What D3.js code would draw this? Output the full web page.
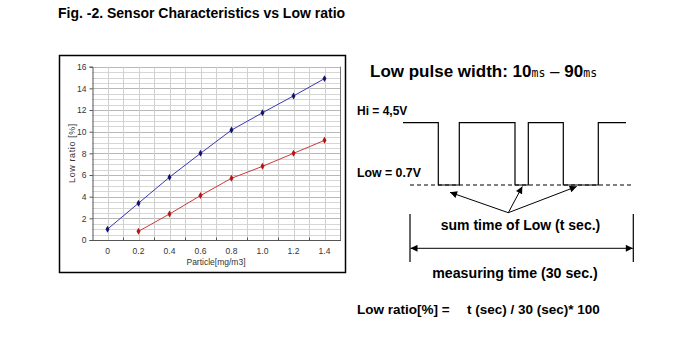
<!DOCTYPE html>
<html><head><meta charset="utf-8">
<script src="https://cdn.jsdelivr.net/npm/d3@7"></script>
<style>body{margin:0;background:#fff}svg{display:block}</style>
</head><body>
<svg id="c" width="690" height="358"></svg>
<script>
const categories = ["0","0.2","0.4","0.6","0.8","1.0","1.2","1.4"];
const seriesBlue = [1.0, 3.4, 5.8, 8.0, 10.15, 11.75, 13.3, 14.9];
const seriesRed = [null, 0.8, 2.4, 4.1, 5.7, 6.8, 8.0, 9.2];
const yTicks = [0,2,4,6,8,10,12,14,16];

const svg = d3.select("#c");
const F = "Liberation Sans, Arial, sans-serif";

// Figure title
svg.append("text").attr("x",58).attr("y",18).attr("font-family",F).attr("font-weight","bold")
  .attr("font-size",14).attr("fill","#000").text("Fig. -2. Sensor Characteristics vs Low ratio");

// Chart frame
svg.append("rect").attr("x",59.5).attr("y",55.5).attr("width",286).attr("height",217)
  .attr("fill","#fff").attr("stroke","#000").attr("stroke-width",1.5);

const x = d3.scalePoint().domain(categories).range([92,340]).padding(0.5);
const y = d3.scaleLinear().domain([0,16]).range([240,66.7]);
const step = x.step();

const g = svg.append("g");
const minor = d3.range(0,16.01,0.5);
g.selectAll(".hg").data(minor).join("line")
  .attr("x1",92).attr("x2",340.5).attr("y1",d=>Math.round(y(d))+0.5).attr("y2",d=>Math.round(y(d))+0.5)
  .attr("stroke",d=>d%2===0?"#b8b8b8":"#d6d6d6").attr("stroke-width",1);
const vpos = [];
categories.forEach(c=>{vpos.push(x(c)); vpos.push(x(c)+step/2);});
g.selectAll(".vg").data(vpos).join("line")
  .attr("x1",d=>Math.round(d)+0.5).attr("x2",d=>Math.round(d)+0.5).attr("y1",66.7).attr("y2",240)
  .attr("stroke","#d0d0d0");
g.append("line").attr("x1",340.5).attr("x2",340.5).attr("y1",66.7).attr("y2",240).attr("stroke","#777");

const yAxis = d3.axisLeft(y).tickValues(yTicks).tickSize(3).tickPadding(3);
const ya = svg.append("g").attr("transform","translate(92.5,0)").call(yAxis);
ya.select(".domain").attr("stroke","#555");
ya.selectAll(".tick line").attr("stroke","#555");
ya.selectAll("text").attr("font-family",F).attr("font-size",8.5).attr("fill","#333");

const xa = svg.append("g").attr("transform","translate(0,240.5)");
xa.append("line").attr("x1",92).attr("x2",341).attr("stroke","#555");
const edges = categories.slice(0,-1).map(c=>x(c)+step/2);
xa.selectAll(".xt").data(edges).join("line").attr("x1",d=>Math.round(d)+0.5).attr("x2",d=>Math.round(d)+0.5)
  .attr("y1",0).attr("y2",-3).attr("stroke","#555");
xa.selectAll(".xl").data(categories).join("text").attr("x",d=>x(d)).attr("y",13.5)
  .attr("text-anchor","middle").attr("font-family",F).attr("font-size",8.5).attr("fill","#333").text(d=>d);

svg.append("text").attr("x",216).attr("y",264.5).attr("text-anchor","middle").attr("font-family",F)
  .attr("font-size",8.5).attr("fill","#333").text("Particle[mg/m3]");
svg.append("text").attr("transform","translate(74.5,153) rotate(-90)").attr("text-anchor","middle")
  .attr("font-family",F).attr("font-size",9).attr("letter-spacing",0.6).attr("fill","#333").text("Low ratio [%]");

function series(vals,lc,mc){
  const pts = categories.map((c,i)=>({c,v:vals[i]})).filter(d=>d.v!=null);
  svg.append("path").datum(pts).attr("fill","none").attr("stroke",lc).attr("stroke-width",1)
    .attr("d",d3.line().x(d=>x(d.c)).y(d=>y(d.v)));
  svg.selectAll(null).data(pts).join("path")
    .attr("transform",d=>`translate(${x(d.c)},${y(d.v)})`)
    .attr("d",d3.symbol(d3.symbolDiamond,14)).attr("fill",mc);
}
series(seriesBlue,"#3a3ab0","#14146e");
series(seriesRed,"#d03838","#b01818");

// ---- right diagram ----
const T = svg.append("g").attr("font-family",F).attr("fill","#000");
const t1 = T.append("text").attr("x",370).attr("y",77).attr("font-size",17).attr("font-weight","bold");
t1.append("tspan").text("Low pulse width: 10");
t1.append("tspan").attr("font-weight","normal").attr("font-size",11.5).attr("font-family","DejaVu Sans Mono, monospace").text("ms");
t1.append("tspan").attr("font-weight","normal").text(" \u2013 ");
t1.append("tspan").text("90");
t1.append("tspan").attr("font-weight","normal").attr("font-size",11.5).attr("font-family","DejaVu Sans Mono, monospace").text("ms");

T.append("text").attr("x",357).attr("y",115).attr("font-size",12).attr("font-weight","bold").text("Hi = 4,5V");
T.append("text").attr("x",357).attr("y",177).attr("font-size",12.3).attr("font-weight","bold").text("Low = 0.7V");

const hi=122.7, lo=185;
const wave = [[403,hi],[438.3,hi],[438.3,lo],[459.3,lo],[459.3,hi],[515,hi],[515,lo],[528.3,lo],[528.3,hi],[563.3,hi],[563.3,lo],[598.3,lo],[598.3,hi],[626,hi]];
svg.append("path").attr("d",d3.line()(wave)).attr("fill","none").attr("stroke","#000").attr("stroke-width",1.2);
svg.append("line").attr("x1",410).attr("x2",634).attr("y1",lo).attr("y2",lo).attr("stroke","#000")
  .attr("stroke-width",1.2).attr("stroke-dasharray","4,3");

const defs = svg.append("defs");
defs.append("marker").attr("id","ah").attr("viewBox","0 0 10 10").attr("refX",10).attr("refY",5)
  .attr("markerWidth",9).attr("markerHeight",7).attr("orient","auto-start-reverse").attr("markerUnits","userSpaceOnUse")
  .append("path").attr("d","M0,0L10,5L0,10Z").attr("fill","#000");

const src=[508.3,212.7];
[[450,192.3],[522.3,186.5],[576.7,186.5]].forEach(p=>{
  svg.append("line").attr("x1",src[0]).attr("y1",src[1]).attr("x2",p[0]).attr("y2",p[1])
    .attr("stroke","#000").attr("stroke-width",1).attr("marker-end","url(#ah)");
});
T.append("text").attr("x",520.5).attr("y",230).attr("text-anchor","middle").attr("font-size",14).attr("font-weight","bold")
  .text("sum time of Low (t sec.)");

svg.append("line").attr("x1",410).attr("x2",410).attr("y1",214).attr("y2",262).attr("stroke","#000").attr("stroke-width",1.2);
svg.append("line").attr("x1",633.3).attr("x2",633.3).attr("y1",214).attr("y2",262).attr("stroke","#000").attr("stroke-width",1.2);
svg.append("line").attr("x1",410.5).attr("x2",632.8).attr("y1",248.3).attr("y2",248.3).attr("stroke","#000").attr("stroke-width",1)
  .attr("marker-start","url(#ah)").attr("marker-end","url(#ah)");
T.append("text").attr("x",515).attr("y",278).attr("text-anchor","middle").attr("font-size",14.2).attr("font-weight","bold")
  .text("measuring time (30 sec.)");

const t2 = T.append("text").attr("x",357).attr("y",314).attr("font-size",13.5).attr("font-weight","bold");
t2.append("tspan").text("Low ratio[%] =");
t2.append("tspan").attr("x",467).text("t (sec) / 30 (sec)* 100");
</script>
</body></html>
